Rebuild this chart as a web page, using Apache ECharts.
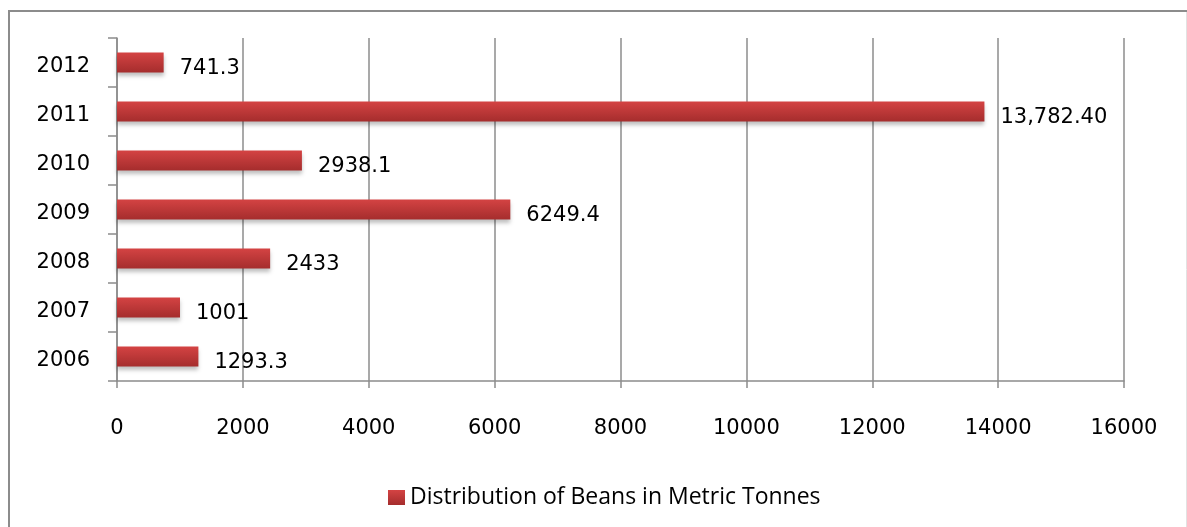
<!DOCTYPE html>
<html>
<head>
<meta charset="utf-8">
<script src="https://cdn.jsdelivr.net/npm/echarts@6/dist/echarts.min.js"></script>
<style>
html,body{margin:0;padding:0;background:#fff;}
#c{width:1187px;height:527px;}
</style>
</head>
<body>
<div id="c"></div>
<script>
var categories = ['2006', '2007', '2008', '2009', '2010', '2011', '2012'];
var values = [1293.3, 1001, 2433, 6249.4, 2938.1, 13782.4, 741.3];
var valueLabels = ['1293.3', '1001', '2433', '6249.4', '2938.1', '13,782.40', '741.3'];
var seriesName = 'Distribution of Beans in Metric Tonnes';
var xTicks = {min: 0, max: 16000, interval: 2000};

var NUMFONT = 'DejaVu Sans';
var TXTFONT = 'Open Sans';
var chart = echarts.init(document.getElementById('c'));
var barColor = new echarts.graphic.LinearGradient(0, 0, 0, 1, [
  {offset: 0, color: '#d44343'},
  {offset: 1, color: '#a52d2d'}
]);
chart.setOption({
  animation: false,
  backgroundColor: '#fff',
  textStyle: {fontFamily: NUMFONT},
  graphic: [
    {type: 'rect', silent: true, shape: {x: 9, y: 11, width: 1300, height: 700},
     style: {fill: 'none', stroke: '#8c8c8c', lineWidth: 2}},
    {type: 'line', silent: true, shape: {x1: 1186.5, y1: 12, x2: 1186.5, y2: 527},
     style: {stroke: '#e2e2e2', lineWidth: 1}}
  ],
  grid: {left: 117, right: 63, top: 38, bottom: 146, containLabel: false},
  legend: {
    data: [seriesName],
    left: 383, top: 481,
    itemWidth: 17, itemHeight: 15, itemGap: 6,
    icon: 'rect',
    textStyle: {fontSize: 23, color: '#000', fontFamily: TXTFONT}
  },
  xAxis: {
    type: 'value',
    min: xTicks.min, max: xTicks.max, interval: xTicks.interval,
    axisLine: {show: true, lineStyle: {color: '#8c8c8c', width: 1.5}},
    axisTick: {show: true, length: 7, lineStyle: {color: '#8c8c8c', width: 1.5}},
    splitLine: {show: true, lineStyle: {color: '#8c8c8c', width: 1.5}},
    axisLabel: {fontSize: 21, color: '#000', margin: 37, fontFamily: NUMFONT,
      formatter: function (v) { return String(v); }}
  },
  yAxis: {
    type: 'category',
    data: categories,
    axisLine: {show: true, lineStyle: {color: '#8c8c8c', width: 1.5}},
    axisTick: {show: true, length: 9, lineStyle: {color: '#8c8c8c', width: 1.5}},
    axisLabel: {color: '#000', margin: 27,
      formatter: function (v) { return '{a|' + v + '}'; },
      rich: {a: {fontSize: 21, color: '#000', fontFamily: NUMFONT, padding: [9, 0, 0, 0]}}}
  },
  series: [{
    name: seriesName,
    type: 'bar',
    data: values,
    barWidth: 20,
    itemStyle: {
      color: barColor,
      shadowColor: 'rgba(0,0,0,0.25)',
      shadowBlur: 4,
      shadowOffsetY: 3
    },
    label: {
      show: true,
      position: 'right',
      distance: 16,
      offset: [0, 6],
      fontSize: 21,
      color: '#000',
      fontFamily: NUMFONT,
      formatter: function (p) { return valueLabels[p.dataIndex]; }
    }
  }]
});
</script>
</body>
</html>
